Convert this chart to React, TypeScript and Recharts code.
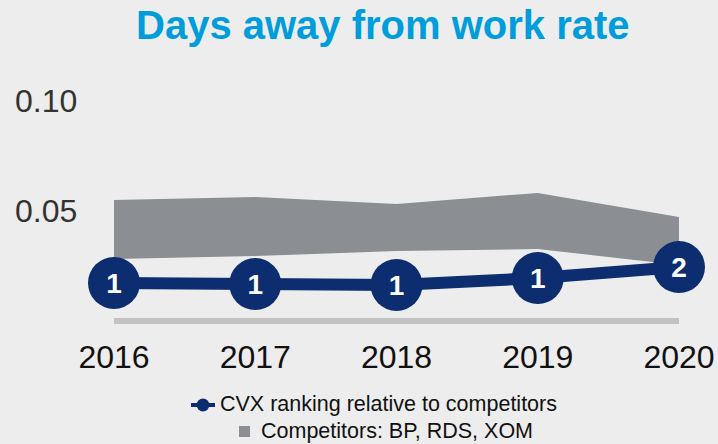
import { ComposedChart, Area, Line, XAxis, YAxis } from "recharts"

const years = ["2016", "2017", "2018", "2019", "2020"]
const competitorLow = [0.0282, 0.0295, 0.0318, 0.0327, 0.0255]
const competitorHigh = [0.055, 0.0564, 0.0532, 0.0582, 0.0473]
const cvxRate = [0.0173, 0.0168, 0.0164, 0.0195, 0.0245]
const cvxRank = [1, 1, 1, 1, 2]
const yTicks = [0.05, 0.1]

const data = years.map((year, i) => ({
  year,
  range: [competitorLow[i], competitorHigh[i]],
  cvx: cvxRate[i],
  rank: cvxRank[i],
}))

const NAVY = "#0c2d6f"
const GRAY = "#8b8e92"
const FONT = "'Liberation Sans', Arial, sans-serif"

const RankDot = (props: any) => {
  const { cx, cy, payload } = props
  if (cx == null || cy == null) return null
  return (
    <g>
      <circle cx={cx} cy={cy} r={26} fill={NAVY} />
      <text
        x={cx}
        y={cy}
        dy={10}
        textAnchor="middle"
        fill="#ffffff"
        fontFamily={FONT}
        fontWeight="bold"
        fontSize={28}
      >
        {payload.rank}
      </text>
    </g>
  )
}

const YTick = (props: any) => {
  const { y, payload } = props
  return (
    <text x={15} y={y} dy={11} textAnchor="start" fill="#333333" fontFamily={FONT} fontSize={32}>
      {payload.value.toFixed(2)}
    </text>
  )
}

export default function App() {
  return (
    <div style={{ position: "relative", width: 718, height: 444, background: "#ededed", fontFamily: FONT }}>
      <style>{`body{margin:0}`}</style>
      <div
        style={{
          position: "absolute",
          top: 3,
          left: 136,
          whiteSpace: "nowrap",
          color: "#009ddc",
          fontWeight: "bold",
          fontSize: 40,
        }}
      >
        Days away from work rate
      </div>
      <ComposedChart
        width={718}
        height={444}
        data={data}
        margin={{ top: 101, right: 39, bottom: 93, left: 14 }}
      >
        <XAxis
          dataKey="year"
          scale="point"
          padding={{ left: 0, right: 0 }}
          axisLine={{ stroke: "#c2c2c2", strokeWidth: 6 }}
          tickLine={false}
          tickMargin={18}
          tick={{ fill: "#111111", fontSize: 32, fontFamily: FONT }}
        />
        <YAxis
          domain={[0, 0.1]}
          ticks={yTicks}
          width={100}
          axisLine={false}
          tickLine={false}
          tick={<YTick />}
        />
        <Area
          dataKey="range"
          type="linear"
          stroke="none"
          fill={GRAY}
          fillOpacity={1}
          isAnimationActive={false}
        />
        <Line
          dataKey="cvx"
          type="linear"
          stroke={NAVY}
          strokeWidth={12}
          dot={<RankDot />}
          activeDot={false}
          isAnimationActive={false}
        />
      </ComposedChart>
      <div style={{ position: "absolute", top: 392, left: 191, display: "flex", alignItems: "center", fontSize: 21.5, color: "#111" }}>
        <svg width={26} height={14} style={{ marginRight: 3 }}>
          <line x1={0} y1={7} x2={24} y2={7} stroke={NAVY} strokeWidth={4} />
          <circle cx={12} cy={7} r={6.5} fill={NAVY} />
        </svg>
        <span>CVX ranking relative to competitors</span>
      </div>
      <div style={{ position: "absolute", top: 419, left: 239, display: "flex", alignItems: "center", fontSize: 21.5, color: "#111" }}>
        <span style={{ display: "inline-block", width: 11, height: 11, background: GRAY, marginRight: 11 }} />
        <span>Competitors: BP, RDS, XOM</span>
      </div>
    </div>
  )
}
